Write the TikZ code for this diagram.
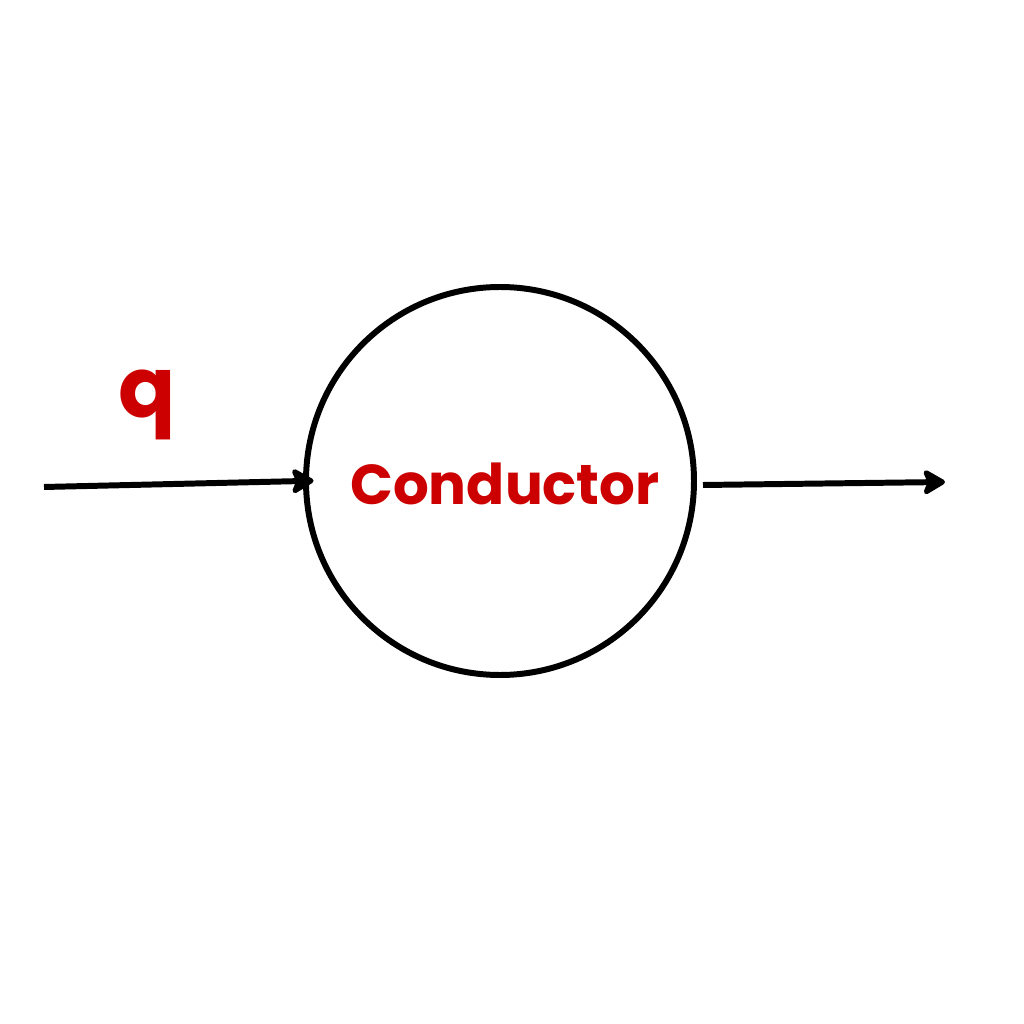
\documentclass[tikz,border=0pt]{standalone}
\usepackage{fontspec}
\setmainfont{Poppins}
\usepackage{tikz}
\usetikzlibrary{arrows.meta}
\definecolor{condred}{HTML}{CC0000}

\begin{document}
\begin{tikzpicture}[conductor_node/.style={circle,draw,line width=1.7pt,minimum size=3.88cm,inner sep=0pt},
	label_text/.style={text=condred,font=\bfseries},
	flow_line/.style={line width=1.7pt,-{Stealth[length=0.26cm,width=0.3cm,inset=0.06cm,round]}}]
	\useasboundingbox (0,0) rectangle (10.24,10.24);
	\node[conductor_node] (cond) at (5.00,5.43) {};
	\node[label_text,font=\bfseries\fontsize{16}{18}\selectfont] (name) at (5.05,5.40) {Conductor};
	\node[label_text,font=\bfseries\fontsize{24}{26}\selectfont] (q) at (1.47,6.19) {q};
	\coordinate (in) at (0.44,5.37);
	\coordinate (out) at (9.45,5.42);
	\coordinate (outstart) at (7.03,5.39);
	
	\draw[flow_line,shorten >=-3pt] (in) -- (cond.west);
	\draw[flow_line] (outstart) -- (out);
\end{tikzpicture}
\end{document}
